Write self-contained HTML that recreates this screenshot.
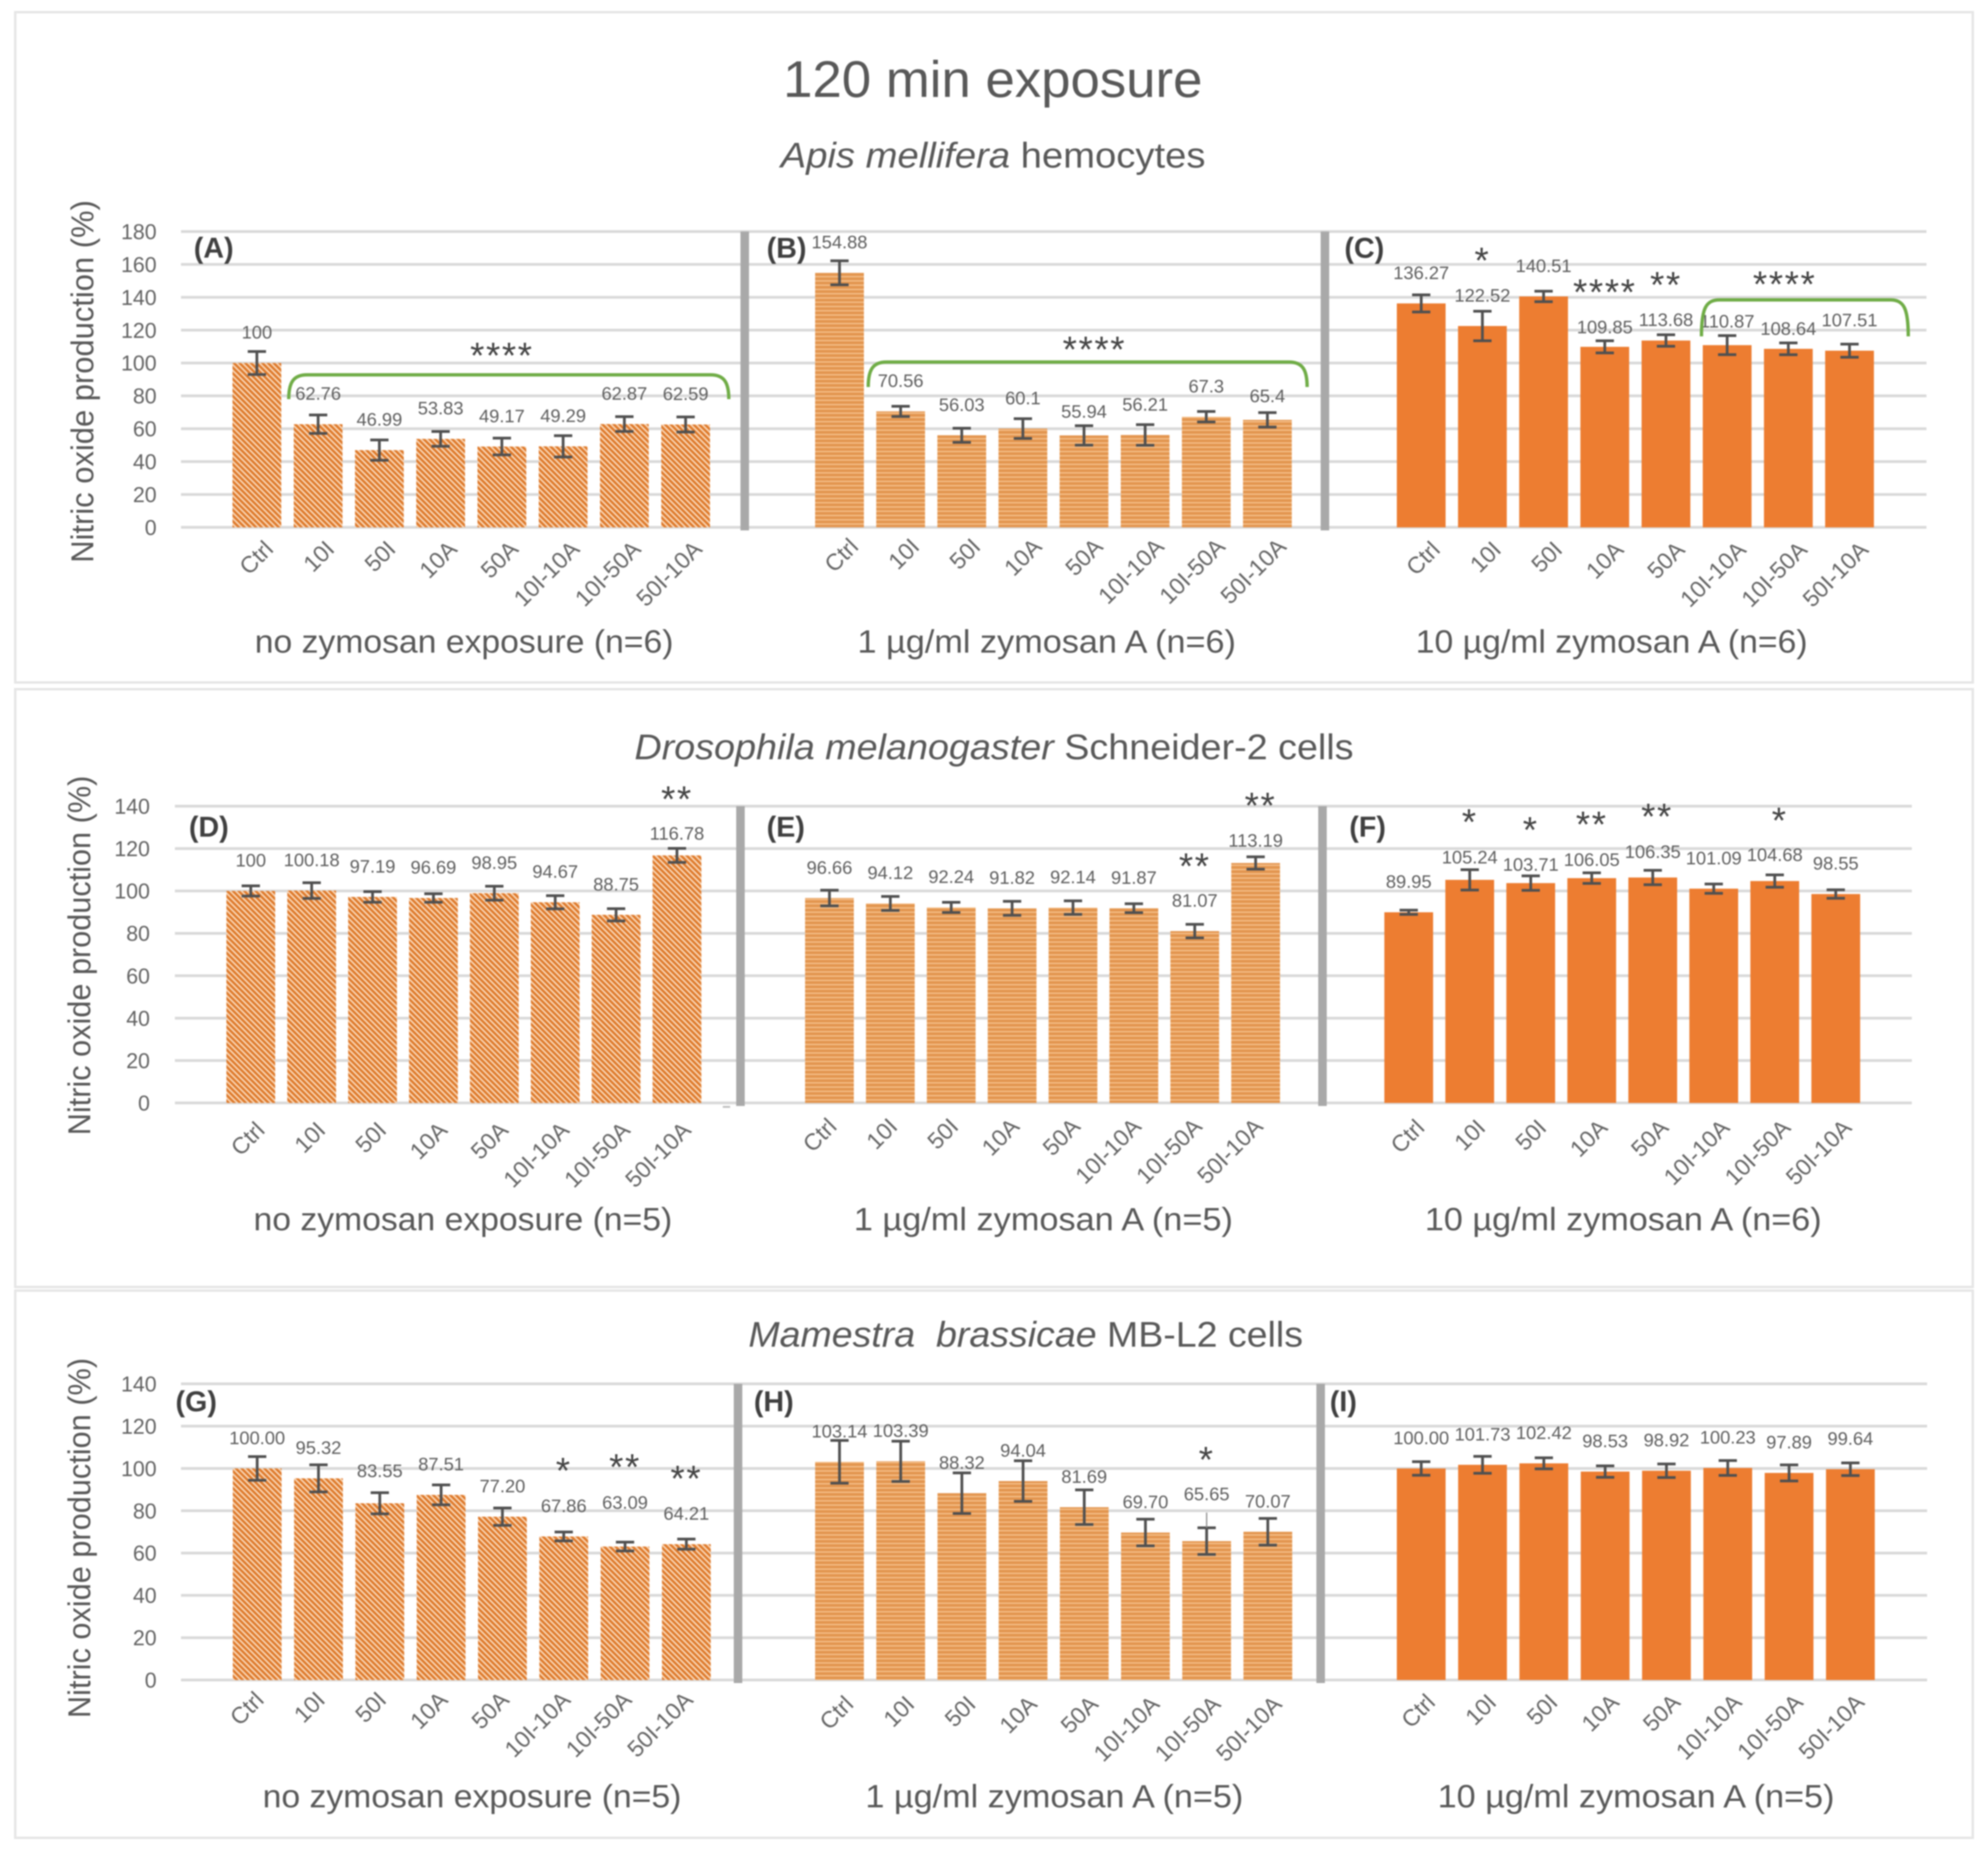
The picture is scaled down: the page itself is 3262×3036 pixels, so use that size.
<!DOCTYPE html>
<html lang="en">
<head>
<meta charset="utf-8">
<title>120 min exposure</title>
<style>
html,body{margin:0;padding:0;background:#fff;}
body{width:3262px;height:3036px;overflow:hidden;}
svg{display:block;filter:blur(1.1px);font-family:"Liberation Sans",sans-serif;}
</style>
</head>
<body>
<svg id="figure" xmlns="http://www.w3.org/2000/svg" width="3262" height="3036" viewBox="0 0 3262 3036">
  <defs>
    <pattern id="hatch-diagonal" width="6.6" height="6.6" patternUnits="userSpaceOnUse" patternTransform="rotate(-45)">
      <rect width="6.6" height="6.6" fill="#FAD8B8"/>
      <rect width="3.9" height="6.6" fill="#DE7A2C"/>
    </pattern>
    <pattern id="hatch-horizontal" width="7" height="7" patternUnits="userSpaceOnUse">
      <rect width="7" height="7" fill="#E39650"/>
      <rect y="5" width="7" height="2" fill="#F6C28E"/>
    </pattern>
  </defs>
  <rect width="3262" height="3036" fill="#ffffff"/>
  <rect x="25" y="20" width="3212" height="1100" fill="#fff" stroke="#E6E6E6" stroke-width="4"/>
  <rect x="25" y="1131" width="3212" height="981" fill="#fff" stroke="#E6E6E6" stroke-width="4"/>
  <rect x="25" y="2118" width="3212" height="898" fill="#fff" stroke="#E6E6E6" stroke-width="4"/>

  <g fill="#595959">
    <text x="1285" y="159" font-size="84" textLength="688" lengthAdjust="spacingAndGlyphs">120 min exposure</text>
    <text x="1281" y="275" font-size="58" textLength="697" lengthAdjust="spacingAndGlyphs"><tspan font-style="italic">Apis mellifera</tspan> hemocytes</text>
    <text x="1041" y="1246" font-size="58" textLength="1180" lengthAdjust="spacingAndGlyphs"><tspan font-style="italic">Drosophila melanogaster</tspan> Schneider-2 cells</text>
    <text x="1228" y="2210" font-size="58" textLength="910" lengthAdjust="spacingAndGlyphs"><tspan font-style="italic">Mamestra&#160; brassicae</tspan> MB-L2 cells</text>

    <text x="418" y="1071" font-size="53" textLength="687" lengthAdjust="spacingAndGlyphs">no zymosan exposure (n=6)</text>
    <text x="1407" y="1071" font-size="53" textLength="621" lengthAdjust="spacingAndGlyphs">1 µg/ml zymosan A (n=6)</text>
    <text x="2323" y="1071" font-size="53" textLength="643" lengthAdjust="spacingAndGlyphs">10 µg/ml zymosan A (n=6)</text>
    <text x="416" y="2019" font-size="53" textLength="687" lengthAdjust="spacingAndGlyphs">no zymosan exposure (n=5)</text>
    <text x="1401" y="2019" font-size="53" textLength="622" lengthAdjust="spacingAndGlyphs">1 µg/ml zymosan A (n=5)</text>
    <text x="2338" y="2019" font-size="53" textLength="651" lengthAdjust="spacingAndGlyphs">10 µg/ml zymosan A (n=6)</text>
    <text x="431" y="2966" font-size="53" textLength="687" lengthAdjust="spacingAndGlyphs">no zymosan exposure (n=5)</text>
    <text x="1420" y="2966" font-size="53" textLength="620" lengthAdjust="spacingAndGlyphs">1 µg/ml zymosan A (n=5)</text>
    <text x="2359" y="2966" font-size="53" textLength="651" lengthAdjust="spacingAndGlyphs">10 µg/ml zymosan A (n=5)</text>

    <text transform="translate(153 626) rotate(-90)" text-anchor="middle" font-size="52" textLength="595" lengthAdjust="spacingAndGlyphs">Nitric oxide production (%)</text>
    <text transform="translate(148 1568) rotate(-90)" text-anchor="middle" font-size="52" textLength="590" lengthAdjust="spacingAndGlyphs">Nitric oxide production (%)</text>
    <text transform="translate(148 2524) rotate(-90)" text-anchor="middle" font-size="52" textLength="591" lengthAdjust="spacingAndGlyphs">Nitric oxide production (%)</text>
  </g>
  <g id="chart-layer"></g>
</svg>

<script>
const categories = ["Ctrl", "10I", "50I", "10A", "50A", "10I-10A", "10I-50A", "50I-10A"];
const ticksApis = [0, 20, 40, 60, 80, 100, 120, 140, 160, 180];
const ticksCells = [0, 20, 40, 60, 80, 100, 120, 140];

const valuesA = [100, 62.76, 46.99, 53.83, 49.17, 49.29, 62.87, 62.59];
const errorsA = [7, 5.6, 6.2, 4.5, 5.1, 6.5, 4.5, 4.6];
const valuesB = [154.88, 70.56, 56.03, 60.1, 55.94, 56.21, 67.3, 65.4];
const errorsB = [7.3, 3.1, 4.3, 6, 5.9, 6.3, 3.2, 4.4];
const valuesC = [136.27, 122.52, 140.51, 109.85, 113.68, 110.87, 108.64, 107.51];
const errorsC = [5.2, 9, 3.2, 3.7, 3.5, 5.8, 3.6, 4];
const valuesD = [100, 100.18, 97.19, 96.69, 98.95, 94.67, 88.75, 116.78];
const errorsD = [2.4, 3.7, 2.5, 2, 3.3, 3.1, 2.9, 3.3];
const valuesE = [96.66, 94.12, 92.24, 91.82, 92.14, 91.87, 81.07, 113.19];
const errorsE = [3.7, 3.3, 2.4, 3.3, 3.2, 2.1, 3.2, 2.9];
const valuesF = [89.95, 105.24, 103.71, 106.05, 106.35, 101.09, 104.68, 98.55];
const errorsF = [1, 4.8, 3.4, 2.5, 3.4, 2.2, 2.9, 2];
const valuesG = [100.00, 95.32, 83.55, 87.51, 77.20, 67.86, 63.09, 64.21];
const errorsG = [5.6, 6.4, 5, 4.7, 4.1, 2.1, 2.1, 2.4];
const valuesH = [103.14, 103.39, 88.32, 94.04, 81.69, 69.70, 65.65, 70.07];
const errorsH = [10.1, 9.5, 9.6, 9.6, 8.2, 6.3, 6.3, 6.3];
const valuesI = [100.00, 101.73, 102.42, 98.53, 98.92, 100.23, 97.89, 99.64];
const errorsI = [3.2, 4, 2.6, 2.7, 3.2, 3.5, 3.8, 3];

const rows = [
  {name: "apis", base: 865.4, top: 380, max: 180, ticks: ticksApis, gridL: 297, gridR: 3161, tickR: 257, seps: [1222, 2174]},
  {name: "drosophila", base: 1810, top: 1323, max: 140, ticks: ticksCells, gridL: 287, gridR: 3137, tickR: 246, seps: [1215, 2170]},
  {name: "mamestra", base: 2757, top: 2271, max: 140, ticks: ticksCells, gridL: 297, gridR: 3162, tickR: 257, seps: [1211, 2167]}
];

const panels = [
  {id: "a", row: 0, values: valuesA, errors: errorsA, x0: 421.5, dx: 100.5, fill: "url(#hatch-diagonal)", letter: "(A)", lx: 318, ly: 423, digits: null, lift: {}, tickDx: 29, tickDy: 38,
   stars: [[4, 107.3, "****"]], brace: [0.52, 7.705, 92.8, 78]},
  {id: "b", row: 0, values: valuesB, errors: errorsB, x0: 1377.5, dx: 100.3, fill: "url(#hatch-horizontal)", letter: "(B)", lx: 1258, ly: 423, digits: null, lift: {4: 40, 7: 40}, tickDx: 33, tickDy: 34,
   stars: [[4.17, 111, "****"]], brace: [0.47, 7.65, 100.6, 85.4]},
  {id: "c", row: 0, values: valuesC, errors: errorsC, x0: 2332, dx: 100.4, fill: "#ED7D31", letter: "(C)", lx: 2206, ly: 423, digits: null, lift: {3: 33, 4: 35, 5: 40, 6: 34}, tickDx: 33, tickDy: 39,
   stars: [[1, 165.2, "*"], [3, 145.9, "****"], [4, 150.3, "**"], [5.94, 150.7, "****"]], brace: [4.58, 7.96, 138.4, 116.2]},
  {id: "d", row: 1, values: valuesD, errors: errorsD, x0: 411.5, dx: 99.9, fill: "url(#hatch-diagonal)", letter: "(D)", lx: 310, ly: 1373, digits: null, lift: {7: 37}, tickDx: 25, tickDy: 47,
   stars: [[7, 145.5, "**"]], brace: null},
  {id: "e", row: 1, values: valuesE, errors: errorsE, x0: 1361, dx: 99.9, fill: "url(#hatch-horizontal)", letter: "(E)", lx: 1258, ly: 1373, digits: null, lift: {7: 38}, tickDx: 14, tickDy: 41,
   stars: [[6, 113.9, "**"], [7.08, 142.4, "**"]], brace: null},
  {id: "f", row: 1, values: valuesF, errors: errorsF, x0: 2311.5, dx: 100.1, fill: "#ED7D31", letter: "(F)", lx: 2214, ly: 1373, digits: null, lift: {1: 38, 2: 31, 3: 31, 4: 43, 6: 44}, tickDx: 28, tickDy: 43,
   stars: [[1, 134.7, "*"], [2, 131, "*"], [3, 133.5, "**"], [4.07, 137.3, "**"], [6.08, 135.4, "*"]], brace: null},
  {id: "g", row: 2, values: valuesG, errors: errorsG, x0: 422, dx: 100.6, fill: "url(#hatch-diagonal)", letter: "(G)", lx: 288, ly: 2316, digits: 2, lift: {2: 54, 6: 73}, tickDx: 13, tickDy: 35,
   stars: [[5, 101.1, "*"], [6, 102.9, "**"], [7, 97.4, "**"]], brace: null},
  {id: "h", row: 2, values: valuesH, errors: errorsH, x0: 1377.5, dx: 100.4, fill: "url(#hatch-horizontal)", letter: "(H)", lx: 1237, ly: 2316, digits: 2, lift: {6: 78}, tickDx: 25, tickDy: 42,
   stars: [[6, 106.3, "*"]], brace: null, leader: 6},
  {id: "i", row: 2, values: valuesI, errors: errorsI, x0: 2332, dx: 100.6, fill: "#ED7D31", letter: "(I)", lx: 2182, ly: 2316, digits: 2, lift: {}, tickDx: 25, tickDy: 39,
   stars: [], brace: null}
];

const SVG_NS = "http://www.w3.org/2000/svg";
const layer = document.getElementById("chart-layer");
const BAR_W = 80;
const CAP_W = 30;
const DEFAULT_LIFT = 51;

function make(tag, attrs, text) {
  const el = document.createElementNS(SVG_NS, tag);
  for (const k in attrs) el.setAttribute(k, attrs[k]);
  if (text !== undefined) el.textContent = text;
  layer.appendChild(el);
  return el;
}
function yAt(row, v) {
  return row.base - v * (row.base - row.top) / row.max;
}
function xAt(panel, i) {
  return panel.x0 + panel.dx * i;
}

rows.forEach(function (row) {
  row.ticks.forEach(function (t) {
    const y = yAt(row, t);
    const grid = make("line", {x1: row.gridL, x2: row.gridR, y1: y, y2: y, stroke: "#D9D9D9", "stroke-width": 4.5});
    
    
    const label = make("text", {x: row.tickR, y: y + 12.5, "text-anchor": "end", "font-size": 35, fill: "#636363"}, String(t));
    
    
  });
  row.seps.forEach(function (x, n) {
    const sep = make("rect", {x: x - 7, y: row.top, width: 14, height: row.base - row.top + 5, fill: "#A9A9A9"});
    
    
  });
});

panels.forEach(function (p) {
  const row = rows[p.row];
  const letter = make("text", {x: p.lx, y: p.ly, "font-size": 47, "font-weight": "bold", fill: "#404040"}, p.letter);
  
  

  p.values.forEach(function (v, i) {
    const cx = xAt(p, i);
    const top = yAt(row, v);
    const bar = make("rect", {x: cx - BAR_W / 2, y: top, width: BAR_W, height: row.base - top, fill: p.fill});
    
    
  });

  p.values.forEach(function (v, i) {
    const cx = xAt(p, i);
    const hi = yAt(row, v + p.errors[i]);
    const lo = yAt(row, v - p.errors[i]);
    const err = make("path", {
      d: "M" + (cx - CAP_W / 2) + " " + hi + "H" + (cx + CAP_W / 2) + "M" + cx + " " + hi + "V" + lo + "M" + (cx - CAP_W / 2) + " " + lo + "H" + (cx + CAP_W / 2),
      fill: "none", stroke: "#505050", "stroke-width": 4.5
    });
    
    
    if (p.leader === i) {
      const leader = make("line", {x1: cx, x2: cx, y1: hi, y2: hi - 25, stroke: "#8a8a8a", "stroke-width": 2});
      
      
    }

    const lift = p.lift[i] !== undefined ? p.lift[i] : DEFAULT_LIFT;
    const printed = p.digits === null ? String(v) : v.toFixed(p.digits);
    const val = make("text", {x: cx, y: yAt(row, v) - lift + 11, "text-anchor": "middle", "font-size": 30, fill: "#5f5f5f"}, printed);
    
    

    const ex = cx + p.tickDx;
    const ey = row.base + p.tickDy;
    const tick = make("text", {transform: "translate(" + ex + " " + ey + ") rotate(-45)", "text-anchor": "end", "font-size": 38, fill: "#666666"}, categories[i]);
    
    
  });

  p.stars.forEach(function (s, n) {
    const star = make("text", {x: p.x0 + p.dx * s[0], y: yAt(row, s[1]) + 28, "text-anchor": "middle", "font-size": 60, "letter-spacing": 2.7, fill: "#454545"}, s[2]);
    
    
  });

  if (p.brace) {
    const xa = p.x0 + p.dx * p.brace[0];
    const xb = p.x0 + p.dx * p.brace[1];
    const yt = yAt(row, p.brace[2]);
    const yb = yAt(row, p.brace[3]);
    const br = make("path", {
      d: "M" + xa + " " + yb + "C" + xa + " " + (yt + 12) + " " + (xa + 8) + " " + yt + " " + (xa + 30) + " " + yt +
         "H" + (xb - 30) + "C" + (xb - 8) + " " + yt + " " + xb + " " + (yt + 12) + " " + xb + " " + yb,
      fill: "none", stroke: "#70AD47", "stroke-width": 5.5
    });
    
    
  }
});

const stray = make("rect", {x: 1186, y: 1815, width: 12, height: 3, fill: "#BDBDBD"});


</script>
</body>
</html>
